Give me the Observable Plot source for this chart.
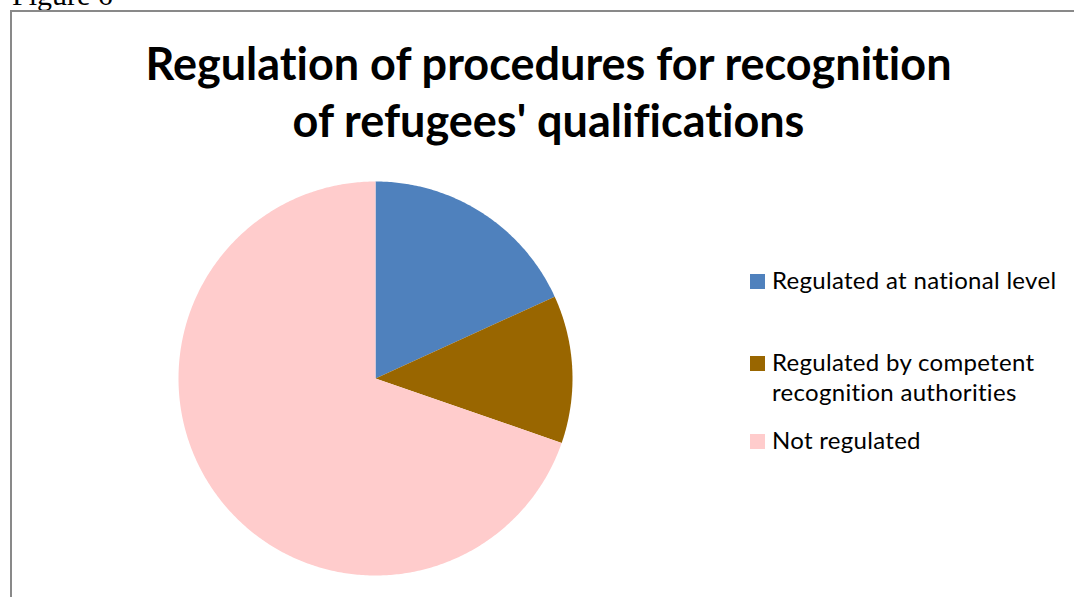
<!DOCTYPE html>
<html>
<head>
<meta charset="utf-8">
<script src="https://cdn.jsdelivr.net/npm/d3@7"></script>
<script src="https://cdn.jsdelivr.net/npm/@observablehq/plot@0.6"></script>
<style>
  html, body { margin: 0; padding: 0; background: #fff; }
  #page { position: relative; width: 1074px; height: 597px; overflow: hidden; background: #fff; font-variant-ligatures: none; font-feature-settings: "liga" 0, "clig" 0; }
  #fig { position: absolute; left: 12px; top: -20px; font-family: "Liberation Serif", serif; font-size: 30px; color: #000; line-height: 30px; }
  #frame { position: absolute; left: 10px; top: 10px; width: 1100px; height: 700px; border-left: 2px solid #898989; border-top: 2px solid #898989; }
  #title { position: absolute; left: 0; width: 1097px; top: 35px; text-align: center; font-family: Lato, "Open Sans", sans-serif; font-weight: 700; font-size: 45px; line-height: 57px; color: #000; }
  #pie { position: absolute; left: 175px; top: 178px; }
  .lg { position: absolute; left: 772px; font-family: Lato, "Open Sans", sans-serif; font-size: 24px; letter-spacing: 0.3px; line-height: 30px; color: #000; white-space: nowrap; }
  .sw { position: absolute; left: 750px; width: 15px; height: 15px; }
</style>
</head>
<body>
<div id="page">
  <div id="fig">Figure 6</div>
  <div id="frame"></div>
  <div id="title">Regulation of procedures for recognition<br>of refugees' qualifications</div>
  <div id="pie"></div>
  <div id="legend"></div>
</div>
<script>
const categories = ["Regulated at national level", "Regulated by competent recognition authorities", "Not regulated"];
const values = [6, 4, 23];
const colors = ["#4F81BD", "#996600", "#FFCCCC"];
const legendLines = [["Regulated at national level"], ["Regulated by competent", "recognition authorities"], ["Not regulated"]];

// Build wedge polygons from the data via d3.pie angles
const arcs = d3.pie().sort(null).value(d => d.value)(categories.map((c, i) => ({category: c, value: values[i]})));
const pts = [];
for (const a of arcs) {
  const c = a.data.category;
  pts.push({category: c, x: 0, y: 0});
  const n = Math.max(2, Math.ceil((a.endAngle - a.startAngle) / 0.01));
  for (let k = 0; k <= n; k++) {
    const t = a.startAngle + (a.endAngle - a.startAngle) * k / n;
    pts.push({category: c, x: Math.sin(t), y: Math.cos(t)});
  }
}

const chart = Plot.plot({
  width: 400,
  height: 400,
  margin: 3,
  x: {domain: [-1, 1], axis: null},
  y: {domain: [-1, 1], axis: null},
  color: {domain: categories, range: colors},
  marks: [
    Plot.line(pts, {x: "x", y: "y", z: "category", fill: "category", stroke: "none", curve: "linear-closed"})
  ]
});
document.getElementById("pie").appendChild(chart);

// Legend
const legendTops = [273, 355, 433];
const lg = document.getElementById("legend");
legendLines.forEach((lines, i) => {
  const sw = document.createElement("div");
  sw.className = "sw";
  sw.style.top = (legendTops[i] + 1) + "px";
  sw.style.background = colors[i];
  lg.appendChild(sw);
  const t = document.createElement("div");
  t.className = "lg";
  t.style.top = (legendTops[i] - 8) + "px";
  t.innerHTML = lines.join("<br>");
  lg.appendChild(t);
});
</script>
</body>
</html>
